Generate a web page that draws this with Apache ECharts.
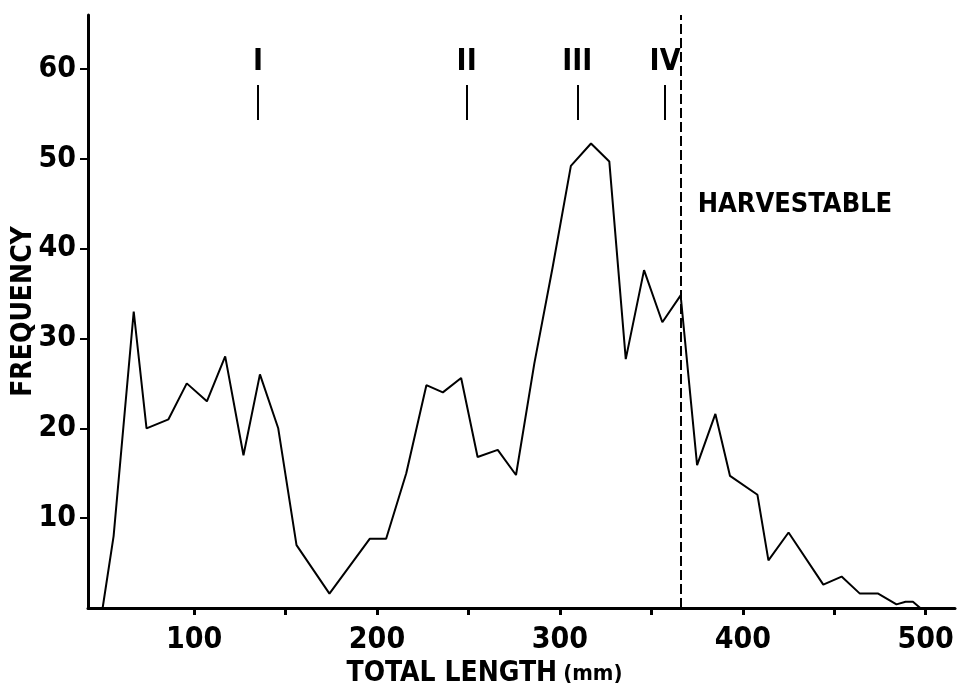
<!DOCTYPE html>
<html lang="en">
    <head>
        <meta charset="UTF-8" />
        <title>Length Frequency</title>
        <script src="https://cdn.jsdelivr.net/npm/echarts@6.0.0/dist/echarts.min.js"></script>
        <style>
            body,
            html {
                margin: 0;
                padding: 0;
                width: 100%;
                height: 100%;
                overflow: hidden;
                background-color: #fff;
            }
            #main {
                width: 962px;
                height: 698px;
            }
        </style>
    </head>
    <body>
        <div id="main"></div>
        <script>
            // total length (mm) and frequency
            const lengths = [
                50, 56, 67, 74, 86, 96, 107, 117, 127, 136, 146, 156, 174, 196, 205, 216, 227, 236, 246, 255, 266,
                276, 286, 296, 306, 317, 327, 336, 346, 356, 366, 375, 385, 393, 408, 414, 425, 444, 454, 464, 474,
                484, 489, 493, 497,
            ]
            const frequency = [
                0, 8, 33, 20, 21, 25, 23, 28, 17, 26, 20, 7, 1.6, 7.7, 7.7, 15, 24.8, 24, 25.6, 16.8, 17.6, 14.8, 27.2,
                37.9, 49.2, 51.7, 49.7, 27.7, 37.6, 31.8, 34.8, 15.9, 21.6, 14.7, 12.6, 5.3, 8.4, 2.6, 3.5, 1.6, 1.6,
                0.4, 0.7, 0.7, 0,
            ]

            // age class marks
            const ageClassNames = ["I", "II", "III", "IV"]
            const ageClassLengths = [135, 249, 309.5, 357.5]
            const ageMarkRange = [54.3, 58.2]

            const harvestLength = 366
            const harvestLabel = "HARVESTABLE"
            const harvestLabelFreq = 44.8

            const xTicks = [100, 150, 200, 250, 300, 350, 400, 450, 500]
            const xLabels = [100, 200, 300, 400, 500]
            const yTicks = [10, 20, 30, 40, 50, 60]

            const FONT = "'DejaVu Sans Condensed', 'DejaVu Sans', sans-serif"
            const chart = echarts.init(document.getElementById("main"), null, { renderer: "canvas" })

            const seriesData = lengths.map((x, i) => [x, frequency[i]])
            const classMarks = ageClassLengths.map((x, i) => [
                { coord: [x, ageMarkRange[0]], name: ageClassNames[i] },
                { coord: [x, ageMarkRange[1]] },
            ])

            const option = {
                animation: false,
                grid: { left: 88, right: 7, top: 15, bottom: 90, outerBoundsMode: "none" },
                xAxis: {
                    type: "value",
                    min: 42,
                    max: 516,
                    name: "{t|TOTAL LENGTH}{u|(mm)}",
                    nameLocation: "middle",
                    nameGap: 52,
                    nameMoveOverlap: false,
                    nameTextStyle: {
                        padding: [0, 74, 0, 0],
                        rich: {
                            t: { fontFamily: FONT, fontWeight: "bold", fontSize: 28, color: "#000" },
                            u: { fontFamily: FONT, fontWeight: "bold", fontSize: 22, color: "#000", padding: [0, 0, 0, 6] },
                        },
                    },
                    axisLine: { onZero: false, lineStyle: { color: "#000", width: 3 } },
                    axisTick: { show: true, customValues: xTicks, length: 7, lineStyle: { color: "#000", width: 3 } },
                    axisLabel: {
                        customValues: xLabels,
                        margin: 17,
                        fontFamily: FONT,
                        fontWeight: "bold",
                        fontSize: 30,
                        color: "#000",
                    },
                    splitLine: { show: false },
                },
                yAxis: {
                    type: "value",
                    min: 0,
                    max: 66,
                    name: "FREQUENCY",
                    nameLocation: "middle",
                    nameGap: 50,
                    nameMoveOverlap: false,
                    nameTextStyle: { fontFamily: FONT, fontWeight: "bold", fontSize: 28, color: "#000" },
                    axisLine: { show: true, lineStyle: { color: "#000", width: 3 } },
                    axisTick: { show: true, customValues: yTicks, length: 8, lineStyle: { color: "#000", width: 2 } },
                    axisLabel: {
                        customValues: yTicks,
                        margin: 12,
                        fontFamily: FONT,
                        fontWeight: "bold",
                        fontSize: 30,
                        color: "#000",
                    },
                    splitLine: { show: false },
                },
                series: [
                    {
                        type: "line",
                        data: seriesData,
                        showSymbol: false,
                        symbol: "none",
                        lineStyle: { color: "#000", width: 2 },
                        markLine: {
                            silent: true,
                            symbol: "none",
                            data: [
                                {
                                    xAxis: harvestLength,
                                    lineStyle: { color: "#000", width: 2, type: [10, 4] },
                                    label: { show: false },
                                },
                            ].concat(classMarks),
                            lineStyle: { color: "#000", width: 2, type: "solid" },
                            label: {
                                show: true,
                                position: "end",
                                distance: 8,
                                formatter: "{b}",
                                fontFamily: FONT,
                                fontWeight: "bold",
                                fontSize: 30,
                                color: "#000",
                            },
                        },
                        markPoint: {
                            silent: true,
                            symbolSize: 0,
                            data: [{ coord: [harvestLength, harvestLabelFreq], name: harvestLabel }],
                            label: {
                                show: true,
                                position: "right",
                                distance: 17,
                                formatter: "{b}",
                                fontFamily: FONT,
                                fontWeight: "bold",
                                fontSize: 27,
                                color: "#000",
                            },
                        },
                    },
                ],
            }
            chart.setOption(option)
        </script>
    </body>
</html>
